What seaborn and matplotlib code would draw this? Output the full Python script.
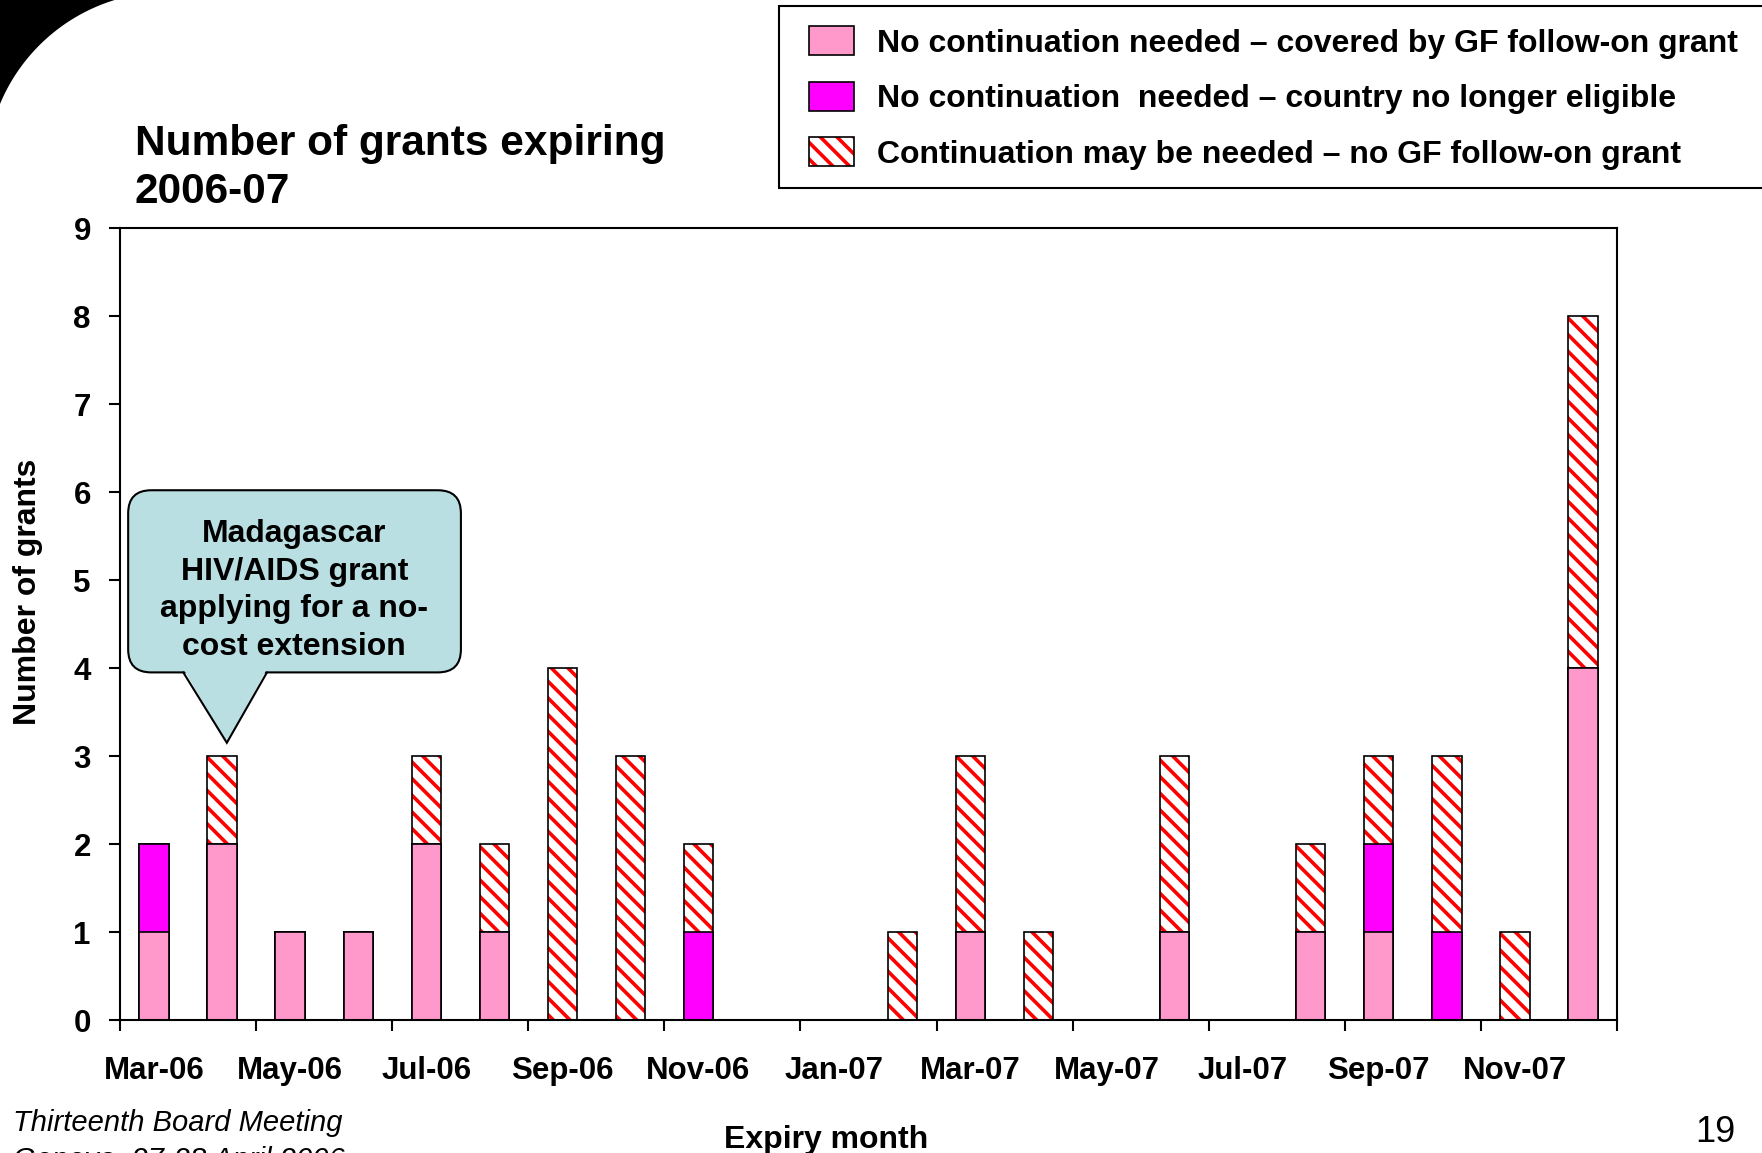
import numpy as np
import pandas as pd
import seaborn as sns
import matplotlib
matplotlib.use("Agg")
from matplotlib import pyplot as plt
from matplotlib.patches import Patch, FancyBboxPatch, Polygon, Rectangle

# data
months = ["Mar-06", "Apr-06", "May-06", "Jun-06", "Jul-06", "Aug-06", "Sep-06", "Oct-06",
          "Nov-06", "Dec-06", "Jan-07", "Feb-07", "Mar-07", "Apr-07", "May-07", "Jun-07",
          "Jul-07", "Aug-07", "Sep-07", "Oct-07", "Nov-07", "Dec-07"]
covered = [1, 2, 1, 1, 2, 1, 0, 0, 0, 0, 0, 0, 1, 0, 0, 1, 0, 1, 1, 0, 0, 4]
not_eligible = [1, 0, 0, 0, 0, 0, 0, 0, 1, 0, 0, 0, 0, 0, 0, 0, 0, 0, 1, 1, 0, 0]
may_need = [0, 1, 0, 0, 1, 1, 4, 3, 1, 0, 0, 1, 2, 1, 0, 2, 0, 1, 1, 2, 1, 4]

legend_labels = ["No continuation needed \u2013 covered by GF follow-on grant",
                 "No continuation  needed \u2013 country no longer eligible",
                 "Continuation may be needed \u2013 no GF follow-on grant"]

pink = "#FF99CC"
magenta = "#FF00FF"
callout_col = "#BADFE3"
hatch = "\\\\"

sns.set_theme(style="white")
plt.rcParams["font.family"] = ["Liberation Sans", "DejaVu Sans"]
plt.rcParams["hatch.linewidth"] = 2.6
plt.rcParams["text.color"] = "black"
plt.rcParams["axes.labelcolor"] = "black"
plt.rcParams["xtick.color"] = "black"
plt.rcParams["ytick.color"] = "black"

df = pd.DataFrame({"month": months, "covered": covered,
                   "not_eligible": not_eligible, "may_need": may_need})
df["mid"] = df["covered"] + df["not_eligible"]
df["total"] = df["mid"] + df["may_need"]

W, H = 1762, 1153
fig = plt.figure(figsize=(W / 100, H / 100), dpi=100)
ax = fig.add_axes([120 / W, 1 - 1020 / H, (1617 - 120) / W, (1020 - 228) / H])

bw = 0.43
# stacked bars drawn as cumulative layers, top layer first
sns.barplot(data=df, x="month", y="total", order=months, color="white", saturation=1,
            width=bw, hatch=hatch, edgecolor="red", linewidth=0, errorbar=None, ax=ax)
sns.barplot(data=df, x="month", y="total", order=months, color="black", fill=False,
            width=bw, linewidth=1.2, errorbar=None, ax=ax)
sns.barplot(data=df, x="month", y="mid", order=months, color=magenta, saturation=1,
            width=bw, edgecolor="black", linewidth=1.2, errorbar=None, ax=ax)
sns.barplot(data=df, x="month", y="covered", order=months, color=pink, saturation=1,
            width=bw, edgecolor="black", linewidth=1.2, errorbar=None, ax=ax)

ax.set_xlim(-0.5, len(months) - 0.5)
ax.set_ylim(0, 9)
ax.set_yticks(range(0, 10))
ax.set_xticks(np.arange(-0.5, len(months), 2))
ax.set_xticks(np.arange(0, len(months), 2), minor=True)
ax.set_xticklabels([""] * len(ax.get_xticks()))
ax.set_xticklabels(months[::2], minor=True)
ax.tick_params(axis="x", which="major", direction="out", length=8, width=1.5, color="black", bottom=True)
ax.tick_params(axis="x", which="minor", length=0, pad=26, labelsize=22.5)
ax.tick_params(axis="y", direction="out", length=8, width=1.5, color="black", left=True, pad=13, labelsize=22.5)
for lab in ax.get_xticklabels(minor=True) + ax.get_yticklabels():
    lab.set_fontweight("bold")
ax.set_xlabel("")
ax.set_ylabel("")
for sp in ax.spines.values():
    sp.set_visible(True)
    sp.set_color("black")
    sp.set_linewidth(1.5)

# callout
box = FancyBboxPatch((-0.38, 3.95), 4.89, 2.07, boxstyle="round,pad=0,rounding_size=0.34",
                     mutation_aspect=0.77, facecolor=callout_col, edgecolor="black",
                     linewidth=1.5, zorder=5, clip_on=False)
ax.add_patch(box)
ax.add_patch(Polygon([(0.43, 3.99), (1.66, 3.99), (1.07, 3.15)], closed=True,
                     facecolor=callout_col, edgecolor="none", zorder=6, clip_on=False))
ax.plot([0.43, 1.07, 1.66], [3.95, 3.15, 3.95], color="black", lw=1.5, zorder=7,
        solid_joinstyle="miter", clip_on=False)
ax.text(2.06, 4.88, "Madagascar\nHIV/AIDS grant\napplying for a no-\ncost extension",
        ha="center", va="center", fontsize=23, fontweight="bold", zorder=8, linespacing=1.33)

# legend box (runs off the right edge of the slide)
fig.patches.append(Rectangle((779 / W, 1 - 188 / H), (1780 - 779) / W, (188 - 6) / H,
                             facecolor="white", edgecolor="black", linewidth=1.5,
                             transform=fig.transFigure, zorder=1))
handles = [Patch(facecolor=pink, edgecolor="black", linewidth=1.2),
           Patch(facecolor=magenta, edgecolor="black", linewidth=1.2),
           (Patch(facecolor="white", edgecolor="red", linewidth=0, hatch=hatch),
            Patch(facecolor="none", edgecolor="black", linewidth=1.2))]
leg = fig.legend(handles, legend_labels, loc="upper left", bbox_to_anchor=(809 / W, 1 - 26 / H),
                 prop={"size": 23, "weight": "bold"}, frameon=False,
                 handlelength=1.4, handleheight=1.03, handletextpad=0.74, labelspacing=0.72,
                 borderpad=0, borderaxespad=0)
leg.set_zorder(2)

# slide texts
fig.text(135 / W, 1 - 124 / H, "Number of grants expiring\n2006-07", ha="left", va="top",
         fontsize=30.5, fontweight="bold", linespacing=1.27)
fig.text(28 / W, 1 - 592 / H, "Number of grants", rotation=90, ha="center", va="center",
         fontsize=23, fontweight="bold")
fig.text(826 / W, 1 - 1148 / H, "Expiry month", ha="center", va="baseline",
         fontsize=23, fontweight="bold")
fig.text(13 / W, 1 - 1131 / H, "Thirteenth Board Meeting", ha="left", va="baseline",
         fontsize=21, style="italic")
fig.text(13 / W, 1 - 1168 / H, "Geneva, 27-28 April 2006", ha="left", va="baseline",
         fontsize=21, style="italic")
fig.text(1736 / W, 1 - 1142 / H, "19", ha="right", va="baseline", fontsize=26)

# black corner of the slide template
cx, cy, r = 168, 174, 182
a0 = np.arctan2(cy - 0, (cx - np.sqrt(r ** 2 - cy ** 2)) - cx)
a1 = np.arctan2(cy - (cy - np.sqrt(r ** 2 - cx ** 2)), 0 - cx)
ang = np.linspace(a0, a1, 80)
px = cx + r * np.cos(ang)
py = cy - r * np.sin(ang)
pts = [(0, 0)] + list(zip(px, py))
fig.patches.append(Polygon([(x / W, 1 - y / H) for x, y in pts], closed=True,
                           facecolor="black", edgecolor="none", transform=fig.transFigure))

fig.savefig("out.png", dpi=100)
